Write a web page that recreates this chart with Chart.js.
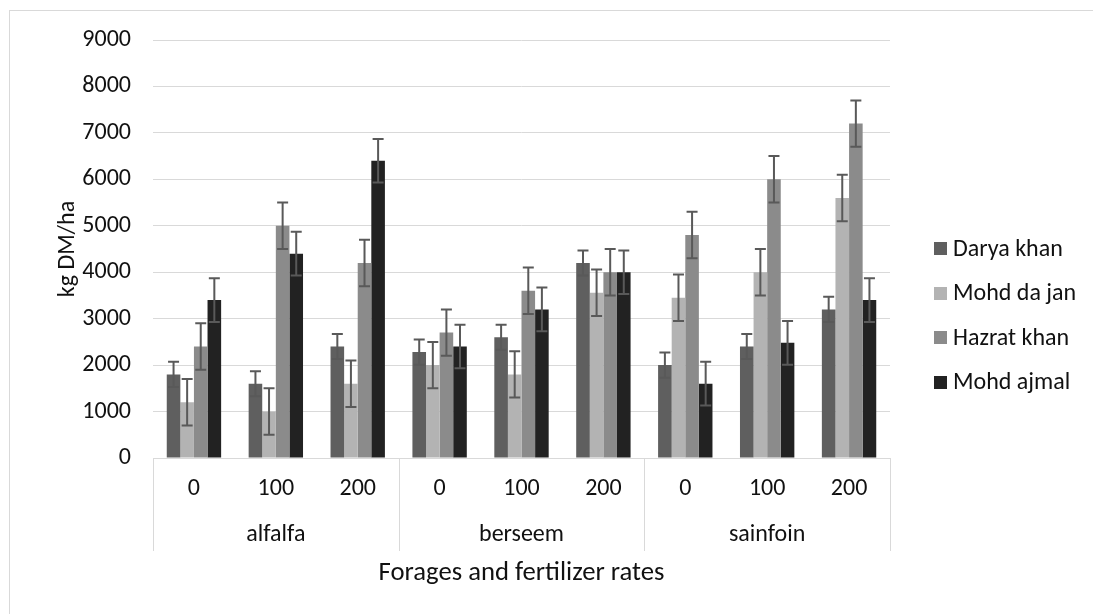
<!DOCTYPE html>
<html>
<head>
<meta charset="utf-8">
<title>Forage dry matter yield</title>
<script src="https://cdn.jsdelivr.net/npm/chart.js@4.4.1/dist/chart.umd.min.js"></script>
<style>
  body { margin: 0; background: #ffffff; }
  canvas { display: block; }
</style>
</head>
<body>
<canvas id="yieldChart" width="1093" height="614"></canvas>
<script>
// forage groups and fertilizer rates along the x axis
const forages = ['alfalfa', 'berseem', 'sainfoin'];
const rates = ['0', '100', '200'];
const farmers = ['Darya khan', 'Mohd da jan', 'Hazrat khan', 'Mohd ajmal'];

// kg DM/ha, in order alfalfa 0/100/200, berseem 0/100/200, sainfoin 0/100/200
const daryaKhan  = [1800, 1600, 2400, 2280, 2600, 4200, 2000, 2400, 3200];
const mohdDaJan  = [1200, 1000, 1600, 2000, 1800, 3560, 3450, 4000, 5600];
const hazratKhan = [2400, 5000, 4200, 2700, 3600, 4000, 4800, 6000, 7200];
const mohdAjmal  = [3400, 4400, 6400, 2400, 3200, 4000, 1600, 2480, 3400];

// +/- error for each farmer's bars
const errorSize = [270, 500, 500, 470];

const yMax = 9000;
const yStep = 1000;

const barColors = ['#5f5f5f', '#b3b3b3', '#8b8b8b', '#222222'];
const textColor = '#111111';
const gridColor = '#d9d9d9';
const fontFamily = 'Carlito, Lato, sans-serif';
const labelSize = 24;

const labels = forages.flatMap(() => rates);
const series = [daryaKhan, mohdDaJan, hazratKhan, mohdAjmal];

const data = {
  labels: labels,
  datasets: series.map((values, i) => ({
    label: farmers[i],
    data: values,
    backgroundColor: barColors[i],
    borderWidth: 0,
    categoryPercentage: 0.664,
    barPercentage: 1.0
  }))
};

// white background and the light frame around the chart
const frame = {
  id: 'frame',
  beforeDraw(chart) {
    const ctx = chart.ctx;
    ctx.save();
    ctx.fillStyle = '#ffffff';
    ctx.fillRect(0, 0, chart.width, chart.height);
    ctx.strokeStyle = gridColor;
    ctx.lineWidth = 1;
    ctx.strokeRect(9.5, 10.5, chart.width + 50, chart.height + 50);
    ctx.restore();
  }
};

// error bars with caps
const errorBars = {
  id: 'errorBars',
  afterDatasetsDraw(chart) {
    const ctx = chart.ctx;
    const y = chart.scales.y;
    ctx.save();
    ctx.strokeStyle = '#595959';
    ctx.lineWidth = 2;
    chart.data.datasets.forEach((ds, i) => {
      const meta = chart.getDatasetMeta(i);
      meta.data.forEach((bar, j) => {
        const v = ds.data[j];
        const top = y.getPixelForValue(v + errorSize[i]);
        const bottom = y.getPixelForValue(v - errorSize[i]);
        const half = 5.5;
        ctx.beginPath();
        ctx.moveTo(bar.x, top);
        ctx.lineTo(bar.x, bottom);
        ctx.moveTo(bar.x - half, top);
        ctx.lineTo(bar.x + half, top);
        ctx.moveTo(bar.x - half, bottom);
        ctx.lineTo(bar.x + half, bottom);
        ctx.stroke();
      });
    });
    ctx.restore();
  }
};

// two-level category labels under the plot: rates, then forage names
const groupedAxis = {
  id: 'groupedAxis',
  afterDraw(chart) {
    const ctx = chart.ctx;
    const x = chart.scales.x;
    const base = chart.chartArea.bottom;
    const step = x.getPixelForValue(1) - x.getPixelForValue(0);
    ctx.save();
    ctx.fillStyle = textColor;
    ctx.textAlign = 'center';
    ctx.textBaseline = 'middle';
    ctx.font = labelSize + 'px ' + fontFamily;
    chart.data.labels.forEach((lab, i) => {
      ctx.fillText(lab, x.getPixelForValue(i), base + 31);
    });
    forages.forEach((name, g) => {
      const left = x.getPixelForValue(g * rates.length) - step / 2;
      ctx.fillText(name, left + step * rates.length / 2, base + 77);
    });
    ctx.strokeStyle = gridColor;
    ctx.lineWidth = 1;
    for (let g = 0; g <= forages.length; g++) {
      const sx = Math.round(x.getPixelForValue(g * rates.length) - step / 2) + 0.5;
      ctx.beginPath();
      ctx.moveTo(sx, base);
      ctx.lineTo(sx, base + 93);
      ctx.stroke();
    }
    ctx.restore();
  }
};

// legend on the right, centred on the chart height
const sideLegend = {
  id: 'sideLegend',
  afterDraw(chart) {
    const ctx = chart.ctx;
    const n = chart.data.datasets.length;
    const gap = 44.5;
    const mid = 315.5;
    ctx.save();
    ctx.font = labelSize + 'px ' + fontFamily;
    ctx.textAlign = 'left';
    ctx.textBaseline = 'middle';
    chart.data.datasets.forEach((ds, i) => {
      const cy = mid + (i - (n - 1) / 2) * gap;
      ctx.fillStyle = ds.backgroundColor;
      ctx.fillRect(934, Math.round(cy - 6.5), 13, 13);
      ctx.fillStyle = textColor;
      ctx.fillText(ds.label, 953, cy + 1);
    });
    ctx.restore();
  }
};

const config = {
  type: 'bar',
  data,
  options: {
    responsive: false,
    animation: false,
    layout: {
      padding: { top: 40, right: 203, bottom: 0, left: 0 }
    },
    plugins: {
      legend: { display: false },
      tooltip: { enabled: false }
    },
    scales: {
      x: {
        offset: true,
        grid: { display: true, drawOnChartArea: false, drawTicks: false },
        border: { display: true, color: gridColor, width: 1 },
        ticks: { display: false },
        title: {
          display: true,
          text: 'Forages and fertilizer rates',
          color: textColor,
          font: { family: fontFamily, size: 26.7, lineHeight: 1.2 },
          padding: { top: 0, bottom: 25 }
        },
        afterFit(scale) { scale.height = 156; }
      },
      y: {
        min: 0,
        max: yMax,
        grid: { color: gridColor, lineWidth: 1, drawTicks: false },
        border: { display: false },
        ticks: {
          stepSize: yStep,
          padding: 22,
          color: textColor,
          font: { family: fontFamily, size: labelSize },
          callback: (value) => String(value)
        },
        title: {
          display: true,
          text: 'kg DM/ha',
          color: textColor,
          font: { family: fontFamily, size: labelSize, lineHeight: 1.2 },
          padding: { top: 54, bottom: 0 }
        },
        afterFit(scale) { scale.width = 153; }
      }
    }
  },
  plugins: [frame, errorBars, groupedAxis, sideLegend]
};

const yieldChart = new Chart(document.getElementById('yieldChart'), config);
</script>
</body>
</html>
